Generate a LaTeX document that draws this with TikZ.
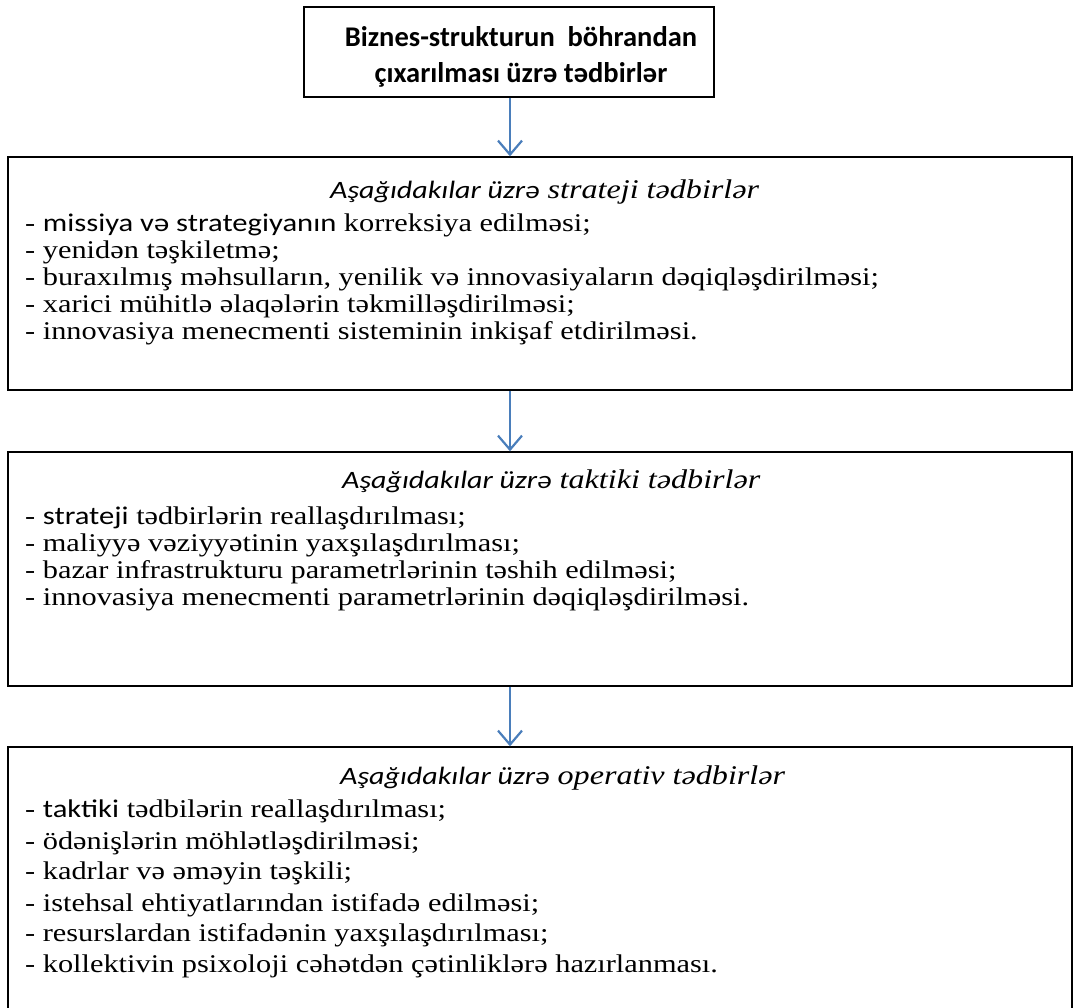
\documentclass[tikz,border=0pt]{standalone}
\usepackage{fontspec}
\setmainfont{Liberation Serif}[FakeStretch=1.19]
\newfontfamily\calfam{Carlito}[FakeStretch=1.2]
\newfontfamily\calplain{Carlito}
\usetikzlibrary{arrows.meta}
\definecolor{arrowblue}{HTML}{4A7EBB}
\newcommand\bodyfont{\fontsize{25.5}{27}\selectfont}
\newcommand\calbody[1]{{\calfam\fontsize{25.5}{27}\selectfont #1}}
\newcommand\headfont{\fontsize{27}{28}\selectfont\itshape}
\newcommand\calhead[1]{{\calfam\fontsize{25}{28}\selectfont\itshape #1}}
\begin{document}
\begin{tikzpicture}[x=1pt,y=-1pt]
\useasboundingbox (0,0) rectangle (1075,1007);
\tikzset{
  boxst/.style={draw=black, line width=1.4pt, inner sep=0pt},
  arr/.style={draw=arrowblue, line width=2.4pt, -{Straight Barb[length=14pt,width=24pt,line width=2.2pt]}},
  linest/.style={anchor=base west, inner sep=0pt, font=\bodyfont},
  headst/.style={anchor=base west, inner sep=0pt, font=\headfont},
  topst/.style={anchor=base, inner sep=0pt, font=\calplain\bfseries\fontsize{28.5}{36}\selectfont},
}
% boxes
\node[boxst, minimum width=410pt, minimum height=90pt] (top) at (509,52) {};
\node[boxst, minimum width=1064pt, minimum height=233pt] (b2) at (540,273.5) {};
\node[boxst, minimum width=1064pt, minimum height=234pt] (b3) at (540,569) {};
\node[boxst, minimum width=1064pt, minimum height=264pt] (b4) at (540,879) {};
\coordinate (ax) at (510,0);
% top text
\node[topst] (t1) at (521,46) {Biznes-strukturun\ \ böhrandan};
\node[topst] (t2) at (521,82) {çıxarılması üzrə tədbirlər};
% arrows
\draw[arr] (top.south -| ax) -- (b2.north -| ax);
\draw[arr] (b2.south -| ax) -- (b3.north -| ax);
\draw[arr] (b3.south -| ax) -- (b4.north -| ax);
% box 2
\node[headst] (h2) at (330,198) {\calhead{Aşağıdakılar üzrə} strateji tədbirlər};
\node[linest] (l21) at (25,231.5) {- \calbody{missiya və strategiyanın} korreksiya edilməsi;};
\node[linest] (l22) at (25,258.5) {- yenidən təşkiletmə;};
\node[linest] (l23) at (25,285.5) {- buraxılmış məhsulların, yenilik və innovasiyaların dəqiqləşdirilməsi;};
\node[linest] (l24) at (25,312.5) {- xarici mühitlə əlaqələrin təkmilləşdirilməsi;};
\node[linest] (l25) at (25,339.5) {- innovasiya menecmenti sisteminin inkişaf etdirilməsi.};
% box 3
\node[headst] (h3) at (342,488) {\calhead{Aşağıdakılar üzrə} taktiki tədbirlər};
\node[linest] (l31) at (25,524.5) {- \calbody{strateji} tədbirlərin reallaşdırılması;};
\node[linest] (l32) at (25,551.5) {- maliyyə vəziyyətinin yaxşılaşdırılması;};
\node[linest] (l33) at (25,578.5) {- bazar infrastrukturu parametrlərinin təshih edilməsi;};
\node[linest] (l34) at (25,605.5) {- innovasiya menecmenti parametrlərinin dəqiqləşdirilməsi.};
% box 4
\node[headst] (h4) at (340,784) {\calhead{Aşağıdakılar üzrə} operativ tədbirlər};
\node[linest] (l41) at (25,817.5) {- \calbody{taktiki} tədbilərin reallaşdırılması;};
\node[linest] (l42) at (25,849.5) {- ödənişlərin möhlətləşdirilməsi;};
\node[linest] (l43) at (25,879.5) {- kadrlar və əməyin təşkili;};
\node[linest] (l44) at (25,911.5) {- istehsal ehtiyatlarından istifadə edilməsi;};
\node[linest] (l45) at (25,941.5) {- resurslardan istifadənin yaxşılaşdırılması;};
\node[linest] (l46) at (25,972.5) {- kollektivin psixoloji cəhətdən çətinliklərə hazırlanması.};
\end{tikzpicture}
\end{document}
